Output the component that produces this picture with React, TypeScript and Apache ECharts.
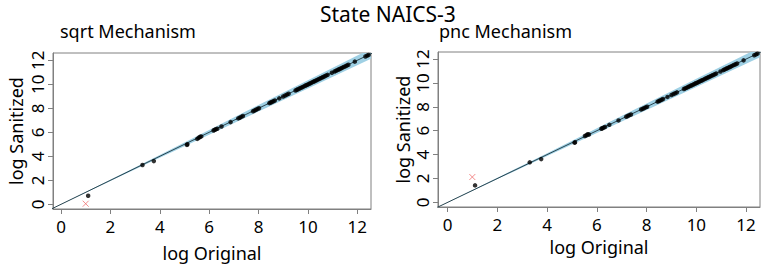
import React, { useEffect, useRef } from "react";
import * as echarts from "echarts";

// ---- data ----
const tickValues = [0, 2, 4, 6, 8, 10, 12];

const sqrtOriginal = [1.10, 3.30, 3.76, 5.10, 5.12, 5.52, 5.58, 5.63, 5.68, 6.18, 6.22, 6.27, 6.33, 6.50, 6.87, 7.18, 7.24, 7.30, 7.37, 7.78, 7.84, 7.90, 7.96, 8.02, 8.44, 8.49, 8.54, 8.60, 8.66, 8.84, 9.00, 9.08, 9.15, 9.22, 9.50, 9.55, 9.60, 9.66, 9.71, 9.77, 9.82, 9.88, 9.93, 9.98, 10.03, 10.08, 10.13, 10.19, 10.24, 10.29, 10.35, 10.40, 10.46, 10.51, 10.57, 10.62, 10.68, 10.74, 10.80, 10.97, 11.08, 11.13, 11.19, 11.24, 11.29, 11.35, 11.40, 11.46, 11.52, 11.58, 11.64, 11.90, 12.33, 12.40, 12.46];
const sqrtSanitized = [0.72, 3.28, 3.60, 4.95, 5.00, 5.45, 5.55, 5.62, 5.66, 6.15, 6.20, 6.25, 6.30, 6.48, 6.85, 7.16, 7.22, 7.29, 7.36, 7.76, 7.82, 7.88, 7.95, 8.01, 8.43, 8.48, 8.53, 8.59, 8.65, 8.83, 8.99, 9.07, 9.14, 9.21, 9.49, 9.54, 9.59, 9.65, 9.70, 9.76, 9.81, 9.87, 9.92, 9.97, 10.02, 10.07, 10.12, 10.18, 10.23, 10.28, 10.34, 10.39, 10.45, 10.50, 10.56, 10.61, 10.67, 10.73, 10.79, 10.96, 11.07, 11.12, 11.18, 11.23, 11.28, 11.34, 11.39, 11.45, 11.51, 11.57, 11.63, 11.89, 12.32, 12.39, 12.45];

const pncOriginal = [1.10, 3.30, 3.76, 5.10, 5.12, 5.52, 5.58, 5.63, 5.68, 6.18, 6.22, 6.27, 6.33, 6.50, 6.87, 7.18, 7.24, 7.30, 7.37, 7.78, 7.84, 7.90, 7.96, 8.02, 8.44, 8.49, 8.54, 8.60, 8.66, 8.84, 9.00, 9.08, 9.15, 9.22, 9.50, 9.55, 9.60, 9.66, 9.71, 9.77, 9.82, 9.88, 9.93, 9.98, 10.03, 10.08, 10.13, 10.19, 10.24, 10.29, 10.35, 10.40, 10.46, 10.51, 10.57, 10.62, 10.68, 10.74, 10.80, 10.97, 11.08, 11.13, 11.19, 11.24, 11.29, 11.35, 11.40, 11.46, 11.52, 11.58, 11.64, 11.90, 12.33, 12.40, 12.46];
const pncSanitized = [1.42, 3.35, 3.62, 5.00, 5.02, 5.55, 5.62, 5.70, 5.68, 6.16, 6.20, 6.26, 6.31, 6.49, 6.86, 7.17, 7.23, 7.30, 7.36, 7.77, 7.83, 7.89, 7.95, 8.01, 8.43, 8.48, 8.53, 8.59, 8.65, 8.83, 8.99, 9.07, 9.14, 9.21, 9.49, 9.54, 9.59, 9.65, 9.70, 9.76, 9.81, 9.87, 9.92, 9.97, 10.02, 10.07, 10.12, 10.18, 10.23, 10.28, 10.34, 10.39, 10.45, 10.50, 10.56, 10.61, 10.67, 10.73, 10.79, 10.96, 11.07, 11.12, 11.18, 11.23, 11.28, 11.34, 11.39, 11.45, 11.51, 11.57, 11.63, 11.89, 12.32, 12.39, 12.45];

const sqrtOutlier = [[1.0, 0.05]];
const pncOutlier = [[0.99, 2.12]];

const bandX = [-0.5, 2, 4, 6, 8, 10, 12.7];
const bandHalfWidth = [0, 0.05, 0.12, 0.2, 0.27, 0.34, 0.42];

const diagLine = [-1, 13];

const FONT = "Noto Sans";

function zip(a: number[], b: number[]) {
  return a.map((v, i) => [v, b[i]]);
}

function makeAxes(gridIndex: number, xr: number[], yr: number[], xGap: number, yGap: number) {
  const common = {
    gridIndex,
    type: "value" as const,
    splitLine: { show: false },
    axisLine: { show: true, onZero: false, lineStyle: { color: "#808080", width: 1 } },
    axisTick: { show: true, length: 5, customValues: tickValues, lineStyle: { color: "#808080", width: 1 } },
    nameLocation: "middle" as const,
    nameTextStyle: { fontSize: 18, color: "#000", fontFamily: FONT },
  };
  const x = {
    ...common,
    min: xr[0],
    max: xr[1],
    name: "log Original",
    nameGap: xGap,
    axisLabel: { customValues: tickValues, fontSize: 17, color: "#000", margin: 9, fontFamily: FONT },
  };
  const y = {
    ...common,
    min: yr[0],
    max: yr[1],
    name: "log Sanitized",
    nameGap: yGap,
    axisLabel: { customValues: tickValues, fontSize: 17, color: "#000", margin: 7, rotate: 90, fontFamily: FONT },
  };
  return { x, y };
}

function bandSeries(idx: number) {
  return {
    type: "custom",
    xAxisIndex: idx,
    yAxisIndex: idx,
    clip: true,
    silent: true,
    data: [[0, 0]],
    renderItem: (_params: any, api: any) => {
      const upper = bandX.map((x, i) => api.coord([x, x + bandHalfWidth[i]]));
      const lower = bandX.map((x, i) => api.coord([x, x - bandHalfWidth[i]])).reverse();
      return {
        type: "polygon",
        shape: { points: upper.concat(lower) },
        style: { fill: "#9fd0e4", stroke: "none" },
      };
    },
    z: 1,
  };
}

function panelSeries(idx: number, orig: number[], san: number[], outlier: number[][]) {
  return [
    bandSeries(idx),
    {
      type: "line",
      xAxisIndex: idx,
      yAxisIndex: idx,
      data: diagLine.map((v) => [v, v]),
      symbol: "none",
      clip: true,
      lineStyle: { color: "#2a4550", width: 1 },
      silent: true,
      z: 2,
    },
    {
      type: "scatter",
      xAxisIndex: idx,
      yAxisIndex: idx,
      data: zip(orig, san),
      symbol: "circle",
      symbolSize: 4.5,
      itemStyle: { color: "#000" },
      z: 3,
    },
    {
      type: "scatter",
      xAxisIndex: idx,
      yAxisIndex: idx,
      data: outlier,
      symbol: "path://M0,0 L10,10 M10,0 L0,10",
      symbolSize: 6,
      itemStyle: { color: "none", borderColor: "#f07070", borderWidth: 1 },
      z: 3,
    },
  ];
}

export default function App() {
  const ref = useRef<HTMLDivElement>(null);
  useEffect(() => {
    if (!ref.current) return;
    const chart = echarts.init(ref.current, undefined, { renderer: "svg" });
    const a0 = makeAxes(0, [-0.324, 12.556], [-0.39, 12.61], 35, 28);
    const a1 = makeAxes(1, [-0.39, 12.56], [-0.39, 12.59], 31, 26);
    chart.setOption({
      animation: false,
      backgroundColor: "#fff",
      textStyle: { fontFamily: FONT },
      title: [
        { text: "State NAICS-3", left: 320, top: 0, padding: 0, textStyle: { fontSize: 21, lineHeight: 28, fontWeight: "normal", color: "#000", fontFamily: FONT } },
        { text: "sqrt Mechanism", left: 55, top: 17, textStyle: { fontSize: 18, fontWeight: "normal", color: "#000", fontFamily: FONT } },
        { text: "pnc Mechanism", left: 434, top: 17, textStyle: { fontSize: 18, fontWeight: "normal", color: "#000", fontFamily: FONT } },
      ],
      grid: [
        { left: 53, top: 53, width: 318, height: 156, show: true, borderColor: "#808080", borderWidth: 1, backgroundColor: "transparent" },
        { left: 438, top: 52, width: 322, height: 155, show: true, borderColor: "#808080", borderWidth: 1, backgroundColor: "transparent" },
      ],
      xAxis: [a0.x, a1.x],
      yAxis: [a0.y, a1.y],
      series: [
        ...panelSeries(0, sqrtOriginal, sqrtSanitized, sqrtOutlier),
        ...panelSeries(1, pncOriginal, pncSanitized, pncOutlier),
      ],
    });
    return () => chart.dispose();
  }, []);
  return <div ref={ref} style={{ position: "absolute", left: 0, top: 0, width: 762, height: 267 }} />;
}
